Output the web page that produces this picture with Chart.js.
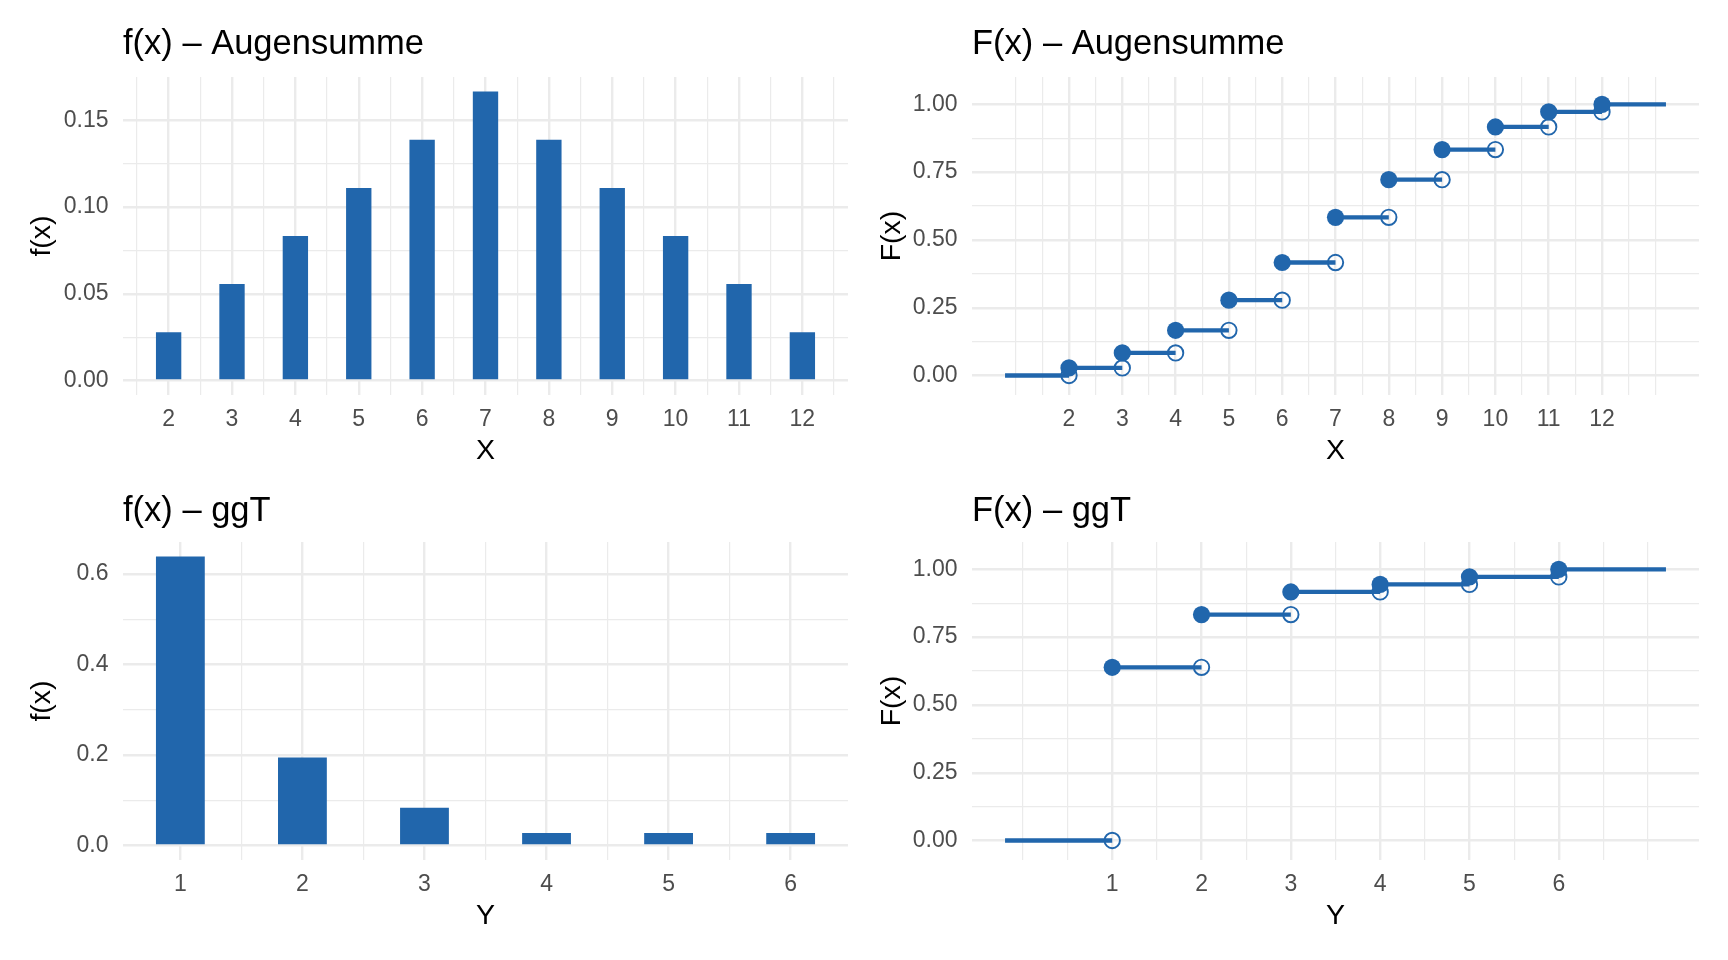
<!DOCTYPE html>
<html>
<head>
<meta charset="utf-8">
<title>Augensumme und ggT</title>
<script src="https://cdn.jsdelivr.net/npm/chart.js@4.4.1/dist/chart.umd.min.js"></script>
<style>
  html, body { margin: 0; padding: 0; background: #fff; }
  #wrap { position: relative; width: 1728px; height: 960px; overflow: hidden; }
  canvas { position: absolute; }
</style>
</head>
<body>
<div id="wrap">
  <canvas id="augenPdf" width="864" height="480" style="left:0;top:0"></canvas>
  <canvas id="augenCdf" width="864" height="480" style="left:864px;top:0"></canvas>
  <canvas id="ggtPdf" width="864" height="480" style="left:0;top:480px"></canvas>
  <canvas id="ggtCdf" width="864" height="480" style="left:864px;top:480px"></canvas>
</div>
<script>
'use strict';

// Augensumme zweier Wuerfel
const augenX = [2, 3, 4, 5, 6, 7, 8, 9, 10, 11, 12];
const augenF = [0.0278, 0.0556, 0.0833, 0.1111, 0.1389, 0.1667, 0.1389, 0.1111, 0.0833, 0.0556, 0.0278];
const augenCum = [0.0278, 0.0833, 0.1667, 0.2778, 0.4167, 0.5833, 0.7222, 0.8333, 0.9167, 0.9722, 1.0];

// ggT zweier Wuerfel
const ggtX = [1, 2, 3, 4, 5, 6];
const ggtF = [0.6389, 0.1944, 0.0833, 0.0278, 0.0278, 0.0278];
const ggtCum = [0.6389, 0.8333, 0.9167, 0.9444, 0.9722, 1.0];

// tick values and labels
const augenXTicks = [2, 3, 4, 5, 6, 7, 8, 9, 10, 11, 12];
const augenXLabels = ['2', '3', '4', '5', '6', '7', '8', '9', '10', '11', '12'];
const ggtXTicks = [1, 2, 3, 4, 5, 6];
const ggtXLabels = ['1', '2', '3', '4', '5', '6'];
const augenFTicks = [0, 0.05, 0.10, 0.15];
const augenFLabels = ['0.00', '0.05', '0.10', '0.15'];
const ggtFTicks = [0, 0.2, 0.4, 0.6];
const ggtFLabels = ['0.0', '0.2', '0.4', '0.6'];
const cumTicks = [0, 0.25, 0.5, 0.75, 1];
const cumLabels = ['0.00', '0.25', '0.50', '0.75', '1.00'];

// how far the step function runs past the outer values
const stepPad = 1.2;

const BLUE = '#2166AC';
const GRID = '#EBEBEB';
const FONT = '"Liberation Sans", Arial, Helvetica, sans-serif';
const W = 864, H = 480;

const tickFont = { family: FONT, size: 23 };
const axisTitleFont = { family: FONT, size: 28.5 };
const titleFont = { family: FONT, size: 34.5, weight: 'normal' };

// panel box inside each canvas
const geomTop = { T: 77, B: 395, titleY: 44.5 };
const geomBottom = { T: 62, B: 380, titleY: 31.5 };
const geomLeft = { L: 123, R: 848, yTitleX: 42 };
const geomRight = { L: 108, R: 835, yTitleX: 28 };

let expand = (lo, hi) => {
  let d = (hi - lo) * 0.05;
  return [lo - d, hi + d];
};

// major ticks plus ggplot style minor ticks, all inside [lo, hi]
let makeTicks = (majors, lo, hi) => {
  let step = majors[1] - majors[0];
  let ext = [majors[0] - step].concat(majors, [majors[majors.length - 1] + step]);
  let minors = ext.slice(1).map((v, i) => (v + ext[i]) / 2).concat([ext[0], ext[ext.length - 1]]);
  let eps = step * 1e-3;
  return majors.map(v => ({ value: v, isMajor: true }))
    .concat(minors.map(v => ({ value: v, isMajor: false })))
    .filter(t => t.value > lo + eps && t.value < hi - eps)
    .sort((a, b) => a.value - b.value);
};

let scaleOptions = (majors, labels, range, title) => {
  let ticks = makeTicks(majors, range[0], range[1]);
  return {
    type: 'linear',
    min: range[0],
    max: range[1],
    offset: false,
    afterBuildTicks: scale => { scale.ticks = ticks.map(t => Object.assign({}, t)); },
    grid: {
      offset: false,
      drawTicks: false,
      color: GRID,
      lineWidth: ctx => (ctx.tick && ctx.tick.isMajor) ? 2.4 : 1.2
    },
    border: { display: false },
    ticks: {
      autoSkip: false,
      maxRotation: 0,
      color: '#4D4D4D',
      font: tickFont,
      callback: value => {
        let k = majors.findIndex(m => Math.abs(m - value) < 1e-9);
        return k < 0 ? '' : labels[k];
      }
    },
    title: { display: true, text: title, color: '#000', font: axisTitleFont, padding: 0 }
  };
};

let chartOptions = (rows, cols, title, xScale, yScale) => {
  let titleHalf = titleFont.size * 0.6;
  let axisHalf = axisTitleFont.size * 0.6;
  let tickHalf = tickFont.size * 0.6;
  let xAxisH = 56 + axisHalf;
  let padLeft = cols.yTitleX - axisHalf;
  xScale.afterFit = scale => { scale.height = xAxisH; };
  xScale.ticks.padding = 24.5 - tickHalf;
  yScale.afterFit = scale => { scale.width = cols.L - padLeft; };
  yScale.ticks.padding = 14.5;
  return {
    responsive: false,
    animation: false,
    devicePixelRatio: 1,
    events: [],
    layout: {
      padding: { left: padLeft, right: W - cols.R, top: 0, bottom: H - rows.B - xAxisH }
    },
    plugins: {
      legend: { display: false },
      tooltip: { enabled: false },
      title: {
        display: true,
        text: title,
        align: 'start',
        fullSize: false,
        color: '#000',
        font: titleFont,
        padding: { top: rows.titleY - titleHalf, bottom: rows.T - rows.titleY - titleHalf }
      }
    },
    scales: { x: xScale, y: yScale }
  };
};

let makeBarChart = (id, rows, cols, title, xs, fs, xTicks, xLabels, yTicks, yLabels, xTitle) => {
  let xRange = expand(xs[0] - 0.2, xs[xs.length - 1] + 0.2);
  let yRange = expand(0, Math.max.apply(null, fs));
  return new Chart(document.getElementById(id), {
    type: 'bar',
    data: {
      datasets: [{
        data: xs.map((x, i) => ({ x, y: fs[i] })),
        backgroundColor: BLUE,
        borderWidth: 0,
        // ticks sit every 0.5 units, so 0.8 of that gives bars 0.4 wide
        barPercentage: 0.8,
        categoryPercentage: 1
      }]
    },
    options: chartOptions(rows, cols, title,
      scaleOptions(xTicks, xLabels, xRange, xTitle),
      scaleOptions(yTicks, yLabels, yRange, 'f(x)'))
  });
};

let stepSegments = (xs, cum) => {
  let segs = [{ x: xs[0] - stepPad, y: 0 }, { x: xs[0], y: 0 }, { x: xs[0], y: null }];
  xs.forEach((x, i) => {
    let xEnd = i < xs.length - 1 ? xs[i + 1] : x + stepPad;
    segs.push({ x, y: cum[i] }, { x: xEnd, y: cum[i] }, { x: xEnd, y: null });
  });
  return segs;
};

let makeStepChart = (id, rows, cols, title, xs, cum, xTicks, xLabels, xTitle) => {
  let xRange = expand(xs[0] - stepPad, xs[xs.length - 1] + stepPad);
  let yRange = [-0.072, 1.101];
  return new Chart(document.getElementById(id), {
    type: 'scatter',
    data: {
      datasets: [
        {
          data: xs.map((x, i) => ({ x, y: cum[i] })),
          pointRadius: 8.6,
          backgroundColor: BLUE,
          borderWidth: 0,
          order: 1
        },
        {
          data: xs.map((x, i) => ({ x, y: i ? cum[i - 1] : 0 })),
          pointRadius: 7.7,
          backgroundColor: 'rgba(0,0,0,0)',
          borderColor: BLUE,
          borderWidth: 1.9,
          order: 2
        },
        {
          type: 'line',
          data: stepSegments(xs, cum),
          showLine: true,
          spanGaps: false,
          borderColor: BLUE,
          borderWidth: 4.3,
          pointRadius: 0,
          order: 3
        }
      ]
    },
    options: chartOptions(rows, cols, title,
      scaleOptions(xTicks, xLabels, xRange, xTitle),
      scaleOptions(cumTicks, cumLabels, yRange, 'F(x)'))
  });
};

makeBarChart('augenPdf', geomTop, geomLeft, 'f(x) – Augensumme', augenX, augenF,
  augenXTicks, augenXLabels, augenFTicks, augenFLabels, 'X');
makeStepChart('augenCdf', geomTop, geomRight, 'F(x) – Augensumme', augenX, augenCum,
  augenXTicks, augenXLabels, 'X');
makeBarChart('ggtPdf', geomBottom, geomLeft, 'f(x) – ggT', ggtX, ggtF,
  ggtXTicks, ggtXLabels, ggtFTicks, ggtFLabels, 'Y');
makeStepChart('ggtCdf', geomBottom, geomRight, 'F(x) – ggT', ggtX, ggtCum,
  ggtXTicks, ggtXLabels, 'Y');
</script>
</body>
</html>
